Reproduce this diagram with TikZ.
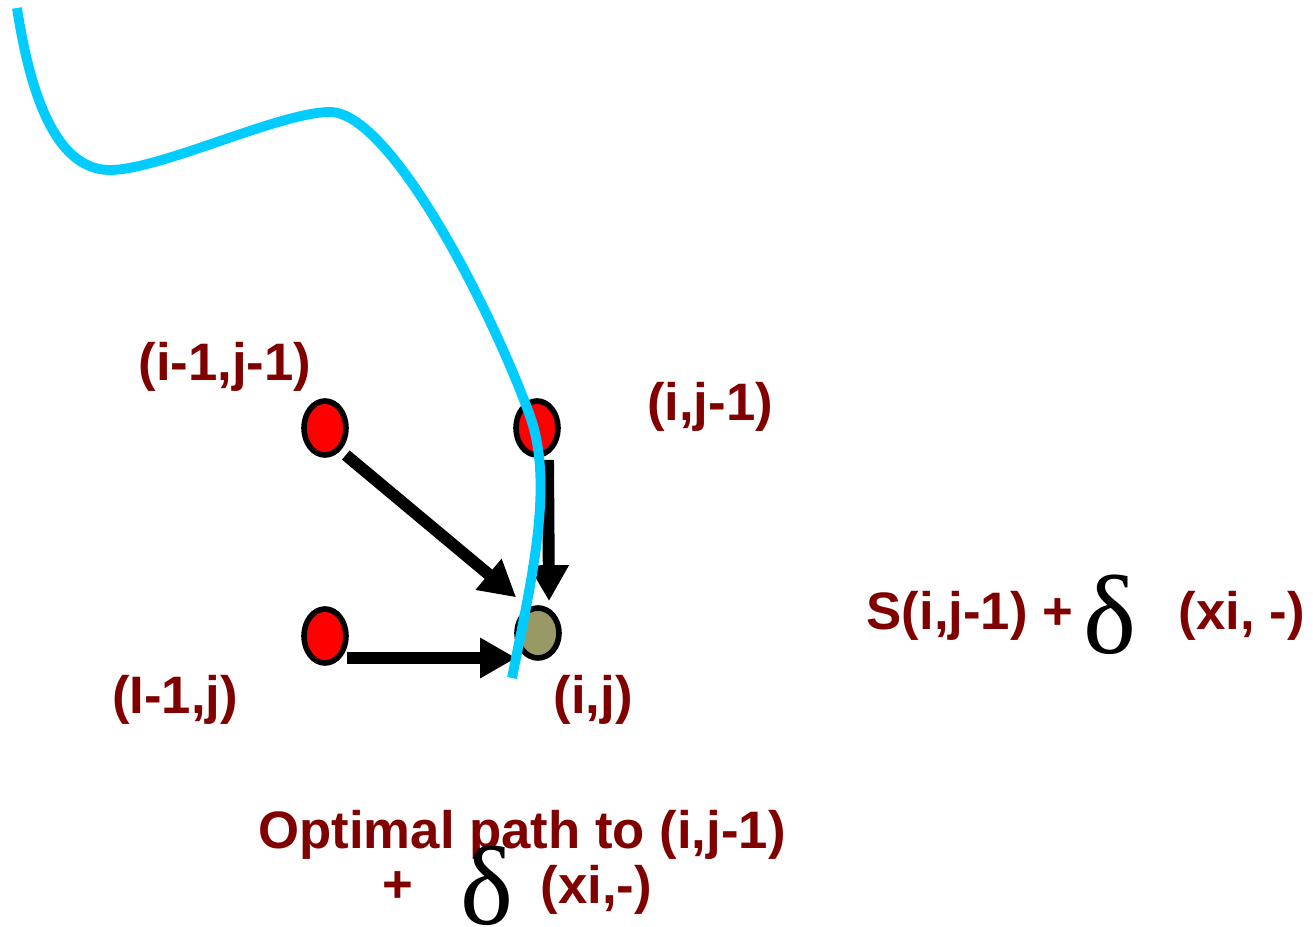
\documentclass[tikz,border=0pt]{standalone}
\usepackage{fontspec}
\setmainfont{Liberation Sans}
\newfontfamily\deltafont{Liberation Serif}
\usepackage{tikz}
\usetikzlibrary{positioning,arrows.meta,shapes.geometric}
\definecolor{labelred}{HTML}{800000}
\definecolor{pathblue}{HTML}{00CCFF}
\definecolor{cellolive}{HTML}{999966}

\begin{document}
\begin{tikzpicture}[
    dot/.style={draw, ellipse, line width=1.6pt, fill=red, minimum width=0.42cm, minimum height=0.54cm, inner sep=0pt},
    lbl/.style={text=labelred, font=\fontsize{15}{18}\selectfont\bfseries, inner sep=0pt},
    bigdelta/.style={font=\deltafont\fontsize{32}{36}\selectfont, inner sep=0pt},
    arrow/.style={-{Triangle[length=3.6mm, width=3.8mm]}, line width=3.4pt}
]
\useasboundingbox (0,0) rectangle (13.13,9.26);

% the four cells
\node[dot] (diag) at (3.25,4.98) {};
\node[dot] (up) at (5.37,4.98) {};
\node[dot] (left) at (3.25,2.90) {};
\node[dot, fill=cellolive, minimum height=0.50cm] (cur) at (5.38,2.93) {};

\node[lbl] (diaglbl) at (2.25,5.59) {(i-1,j-1)};
\node[lbl] (uplbl) at (7.10,5.19) {(i,j-1)};
\node[lbl] (leftlbl) at (1.75,2.26) {(I-1,j)};
\node[lbl] (curlbl) at (5.93,2.26) {(i,j)};

% moves into (i,j)
\draw[arrow] ([xshift=0.4mm, yshift=-0.6mm]diag.south east) -- ([xshift=-0.5mm, yshift=1.6mm]cur.north west);
\draw[arrow] ([xshift=1.1mm, yshift=-0.2mm]up.south) -- ([xshift=1.1mm, yshift=0.4mm]cur.north);
\draw[arrow] ([xshift=-0.2mm, yshift=-0.22cm]left.east) -- ([xshift=0.2mm, yshift=-0.25cm]cur.west);

% the path
\draw[pathblue, line width=2.8pt] (0.17,9.18) .. controls (0.32,8.2) and (0.6,7.56) .. (1.10,7.56)
    .. controls (1.6,7.56) and (2.8,8.14) .. (3.30,8.14)
    .. controls (3.9,8.14) and (4.9,6.2) .. (5.30,5.1)
    .. controls (5.55,4.4) and (5.3,3.4) .. (5.12,2.48);

% score for the vertical move
\node[lbl, anchor=base west] (score) at (8.66,2.96) {S(i,j-1) +};
\node[bigdelta, anchor=base west] (scoredelta) at (10.83,2.73) {δ};
\node[lbl, anchor=base west] (scorearg) at (11.78,2.96) {(xi, -)};

\node[lbl, anchor=base] (optimal) at (5.22,0.78) {Optimal path to (i,j-1)};
\node[lbl, anchor=base west] (plus) at (3.82,0.24) {+};
\node[bigdelta, anchor=base west] (optdelta) at (4.60,0.02) {δ};
\node[lbl, anchor=base west] (optarg) at (5.40,0.23) {(xi,-)};
\end{tikzpicture}
\end{document}
